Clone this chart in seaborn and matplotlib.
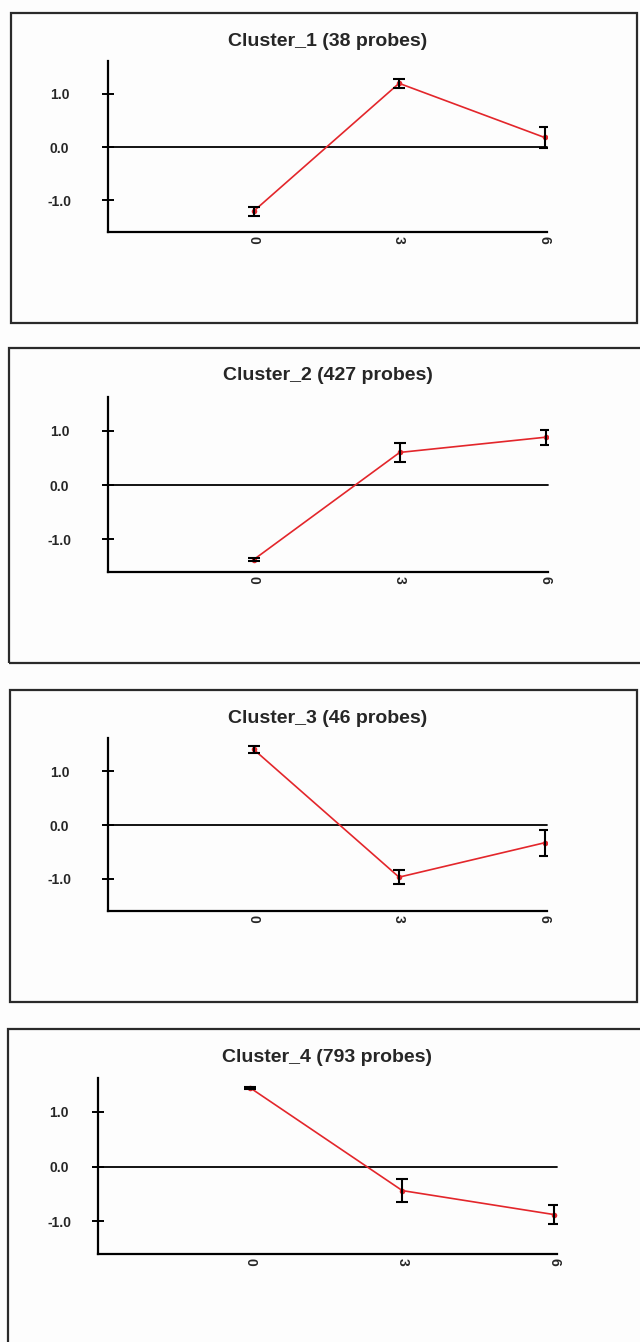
import matplotlib
matplotlib.use("Agg")
import matplotlib.pyplot as plt
import seaborn as sns
import pandas as pd
from matplotlib.patches import Rectangle

sns.set_style("white")
plt.rcParams['font.family'] = ['Liberation Sans', 'DejaVu Sans']

# data
times = [0, 3, 6]
time_labels = ["0", "3", "6"]
titles = ["Cluster_1 (38 probes)", "Cluster_2 (427 probes)",
          "Cluster_3 (46 probes)", "Cluster_4 (793 probes)"]

c1_mean = [-1.21, 1.20, 0.18]
c1_err = [0.09, 0.09, 0.20]
c2_mean = [-1.37, 0.60, 0.88]
c2_err = [0.02, 0.17, 0.14]
c3_mean = [1.41, -0.97, -0.33]
c3_err = [0.06, 0.13, 0.24]
c4_mean = [1.44, -0.44, -0.88]
c4_err = [0.02, 0.21, 0.18]

means = [c1_mean, c2_mean, c3_mean, c4_mean]
errs = [c1_err, c2_err, c3_err, c4_err]

W, H = 640, 1342
fig = plt.figure(figsize=(W / 100, H / 100), dpi=100)
fig.patch.set_facecolor("#fdfdfd")

# pixel layouts (left, top, right, bottom)
axes_px = [(108, 61, 547, 232), (108, 397, 548, 572),
           (108, 738, 547, 911), (98, 1078, 557, 1254)]
boxes_px = [(11, 13, 637, 323), (9, 348, 645, 663),
            (10, 690, 637, 1002), (8, 1029, 645, 1350)]
label_pad = [31, 31, 31, 24]


def to_fig(l, t, r, b):
    return [l / W, 1 - b / H, (r - l) / W, (b - t) / H]


for i in range(4):
    bl, bt, br, bb = boxes_px[i]
    fig.patches.append(Rectangle((bl / W, 1 - bb / H), (br - bl) / W, (bb - bt) / H,
                                 transform=fig.transFigure, fill=False,
                                 edgecolor="#2a2a2a", linewidth=1.6))

    ax = fig.add_axes(to_fig(*axes_px[i]))
    ax.set_facecolor("none")
    df = pd.DataFrame({"time": times, "value": means[i]})

    ax.axhline(0, xmin=-0.01, color="black", lw=1.3, zorder=1, clip_on=False)
    sns.lineplot(data=df, x="time", y="value", ax=ax, color="#e3262b",
                 lw=1.2, marker="o", markersize=4, markeredgewidth=0, zorder=2)
    ax.errorbar(times, means[i], yerr=errs[i], fmt="none", ecolor="black",
                elinewidth=1.5, capsize=4, capthick=1.5, zorder=3)

    ax.set_xlim(-3, 6.05)
    ax.set_ylim(-1.6, 1.62)
    ax.set_xticks(times)
    ax.set_xticklabels(time_labels, rotation=270, fontsize=10, fontweight="bold")
    ax.set_yticks([-1, 0, 1])
    ax.set_yticklabels(["-1.0", "0.0", "1.0"], fontsize=10, fontweight="bold")
    ax.tick_params(axis="y", left=True, direction="inout", length=8, width=1.4,
                   color="black", pad=label_pad[i])
    ax.tick_params(axis="x", bottom=True, direction="inout", length=0, pad=3)
    ax.set_xlabel("")
    ax.set_ylabel("")
    for s in ["top", "right"]:
        ax.spines[s].set_visible(False)
    for s in ["left", "bottom"]:
        ax.spines[s].set_color("black")
        ax.spines[s].set_linewidth(1.6)
    for lab in ax.get_yticklabels():
        lab.set_horizontalalignment("center")

    l, t, r, b = axes_px[i]
    fig.text((l + r) / 2 / W, 1 - (bt + 28) / H, titles[i], ha="center",
             va="center", fontsize=14, fontweight="bold")

fig.savefig("out.png", dpi=100)
